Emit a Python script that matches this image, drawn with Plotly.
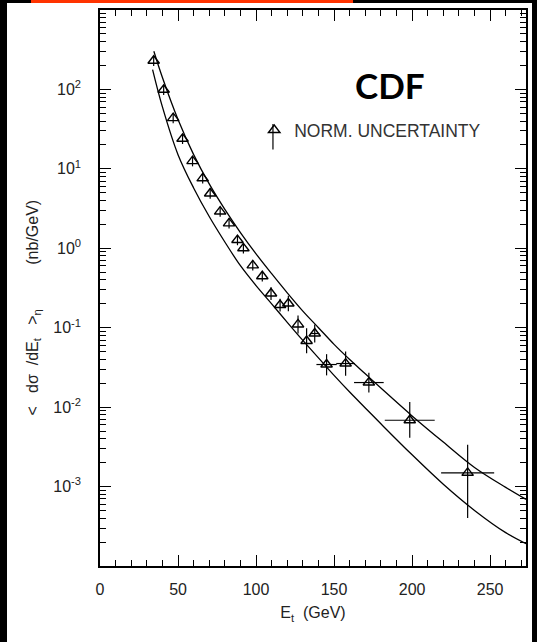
import plotly.graph_objects as go

# Measured points: jet Et (GeV) and <dsigma/dEt> (nb/GeV)
ET = [34.4, 40.8, 46.9, 52.9, 59.3, 65.8, 70.6, 77.0, 82.7, 88.1, 91.9, 97.9,
      104.0, 109.6, 115.4, 120.7, 126.9, 132.4, 137.6, 145.2, 157.4, 172.3,
      198.5, 235.6]
XSEC = [230, 99, 43.5, 23.9, 12.5, 7.6, 4.9, 2.9, 2.06, 1.27, 1.0, 0.61,
        0.445, 0.27, 0.193, 0.202, 0.110, 0.068, 0.0845, 0.0344, 0.0354,
        0.0204, 0.00684, 0.00149]
# relative vertical errors (up / down) and half bin widths in GeV
ERR_UP = [0.15, 0.15, 0.15, 0.15, 0.15, 0.15, 0.15, 0.15, 0.15, 0.15, 0.15, 0.15,
          0.15, 0.2, 0.2, 0.25, 0.3, 0.45, 0.3, 0.35, 0.42, 0.33, 0.7, 1.25]
ERR_DN = [0.14, 0.14, 0.14, 0.14, 0.14, 0.14, 0.14, 0.14, 0.14, 0.14, 0.14, 0.14,
          0.14, 0.17, 0.17, 0.2, 0.23, 0.3, 0.23, 0.27, 0.3, 0.25, 0.4, 0.73]
XERR = [0, 0, 0, 0, 0, 0, 0, 0, 0, 0, 0, 0,
        0, 0, 0, 0, 0, 0, 3, 6.5, 6, 9.5, 16, 17]

# theory band edges
UPPER_ET = [34.5, 40, 50, 60, 70, 80, 90, 100, 110, 120, 130, 140, 150, 160,
            170, 180, 200, 220, 240, 260, 273]
UPPER = [302, 141, 41.7, 15.1, 6.46, 3.09, 1.58, 0.851, 0.479, 0.275, 0.162,
         0.100, 0.0617, 0.0398, 0.0263, 0.0174, 0.00776, 0.00363, 0.00174,
         0.000977, 0.00069]
LOWER_ET = [33.7, 40, 50, 60, 70, 80, 90, 100, 110, 120, 130, 140, 150, 160,
            170, 180, 200, 220, 240, 260, 273]
LOWER = [178, 60.3, 15.1, 5.75, 2.51, 1.20, 0.603, 0.339, 0.200, 0.117, 0.0692,
         0.0417, 0.0251, 0.0155, 0.00977, 0.00617, 0.00251, 0.00107, 0.000501,
         0.000263, 0.000191]

Y_TICKS = [1e-3, 1e-2, 1e-1, 1, 10, 100]
Y_TICKTEXT = ["10<sup>-3</sup>", "10<sup>-2</sup>", "10<sup>-1</sup>",
              "10<sup>0</sup>", "10<sup>1</sup>", "10<sup>2</sup>"]
X_TICKS = [0, 50, 100, 150, 200, 250]

FONT = "Liberation Sans, Arial, sans-serif"
INK = "#222"
X_RANGE = [0, 273]
Y_RANGE = [-4, 3]

y_minor = [k * 10.0 ** p for p in range(-4, 3) for k in range(2, 10)]

fig = go.Figure()

# upper edge lives on the top/right axis pair so those get their own ticks
fig.add_trace(go.Scatter(
    x=UPPER_ET, y=UPPER, mode="lines", xaxis="x2", yaxis="y2",
    line=dict(color="black", width=1.3, shape="spline", smoothing=1.0),
    showlegend=False, hoverinfo="skip",
))
fig.add_trace(go.Scatter(
    x=LOWER_ET, y=LOWER, mode="lines",
    line=dict(color="black", width=1.3, shape="spline", smoothing=1.0),
    showlegend=False, hoverinfo="skip",
))

fig.add_trace(go.Scatter(
    x=ET, y=XSEC, mode="markers",
    name="NORM. UNCERTAINTY",
    marker=dict(symbol="triangle-up-open", size=10, color="black",
                line=dict(color="black", width=1.4)),
    error_y=dict(type="data", symmetric=False,
                 array=[v * f for v, f in zip(XSEC, ERR_UP)],
                 arrayminus=[v * f for v, f in zip(XSEC, ERR_DN)],
                 color="black", thickness=1.2, width=0),
    error_x=dict(type="data", array=XERR, color="black", thickness=1.2, width=0),
))

tick_common = dict(showgrid=False, zeroline=False, showline=True,
                   linecolor="black", linewidth=1.5, ticks="inside",
                   ticklen=11, tickwidth=1.3, tickcolor="black")
x_minor = dict(ticks="inside", ticklen=6, tickwidth=1.2, tickcolor="black",
               dtick=10, showgrid=False)
y_minor_cfg = dict(ticks="inside", ticklen=6, tickwidth=1.0, tickcolor="black",
                   tickvals=y_minor, showgrid=False)

fig.update_layout(
    width=537, height=642,
    margin=dict(l=100, r=11, t=10, b=76),
    # black paper = scanned frame edges; the white sheet is a shape below
    paper_bgcolor="black", plot_bgcolor="white",
    font=dict(family=FONT, color=INK, size=16),
    showlegend=True,
    legend=dict(x=0.362, y=0.784, xanchor="left", yanchor="middle",
                bgcolor="rgba(0,0,0,0)", font=dict(size=17.5, color="#333"),
                itemwidth=30),
    xaxis=dict(
        range=X_RANGE, tickvals=X_TICKS, ticklabelstandoff=8,
        minor=x_minor, **tick_common,
        title=dict(text="E<sub>t</sub>  (GeV)", font=dict(size=16), standoff=10),
    ),
    yaxis=dict(
        type="log", range=Y_RANGE, tickvals=Y_TICKS, ticktext=Y_TICKTEXT,
        ticklabelstandoff=14, minor=y_minor_cfg, **tick_common,
    ),
    xaxis2=dict(
        range=X_RANGE, overlaying="x", side="top", tickvals=X_TICKS,
        showticklabels=False, minor=x_minor, **tick_common,
    ),
    yaxis2=dict(
        type="log", range=Y_RANGE, overlaying="y", side="right",
        tickvals=Y_TICKS, showticklabels=False, minor=y_minor_cfg, **tick_common,
    ),
)

# white sheet
fig.add_shape(type="rect", xref="paper", yref="paper",
              x0=-0.2183, x1=1.0141, y0=-0.2, y1=1.0125,
              fillcolor="white", line_width=0, layer="below")
# red strip along the top edge
fig.add_shape(type="rect", xref="paper", yref="paper",
              x0=-0.162, x1=0.594, y0=1.0125, y1=1.05,
              fillcolor="#ff3300", line_width=0, layer="above")

# y-axis label drawn as rotated annotation
fig.add_annotation(
    xref="paper", yref="paper", x=-0.157, y=0.465,
    xanchor="center", yanchor="middle",
    text="&lt;   dσ  /dE<sub>t</sub>   &gt;<sub>η</sub>          (nb/GeV)",
    textangle=-90, showarrow=False, font=dict(size=16, color=INK),
)
fig.add_annotation(
    xref="paper", yref="paper", x=0.681, y=0.865,
    xanchor="center", yanchor="middle",
    text="<b>CDF</b>", showarrow=False,
    font=dict(family="Lato, sans-serif", size=35, color="black"),
)
# vertical bar through the legend symbol
fig.add_shape(type="line", xref="paper", yref="paper",
              x0=0.406, x1=0.406, y0=0.749, y1=0.795,
              line=dict(color="black", width=1.2))

fig.write_html(
    "out.html",
    config={"displayModeBar": False},
    post_script="document.body.style.margin='0';document.body.style.overflow='hidden';",
)
